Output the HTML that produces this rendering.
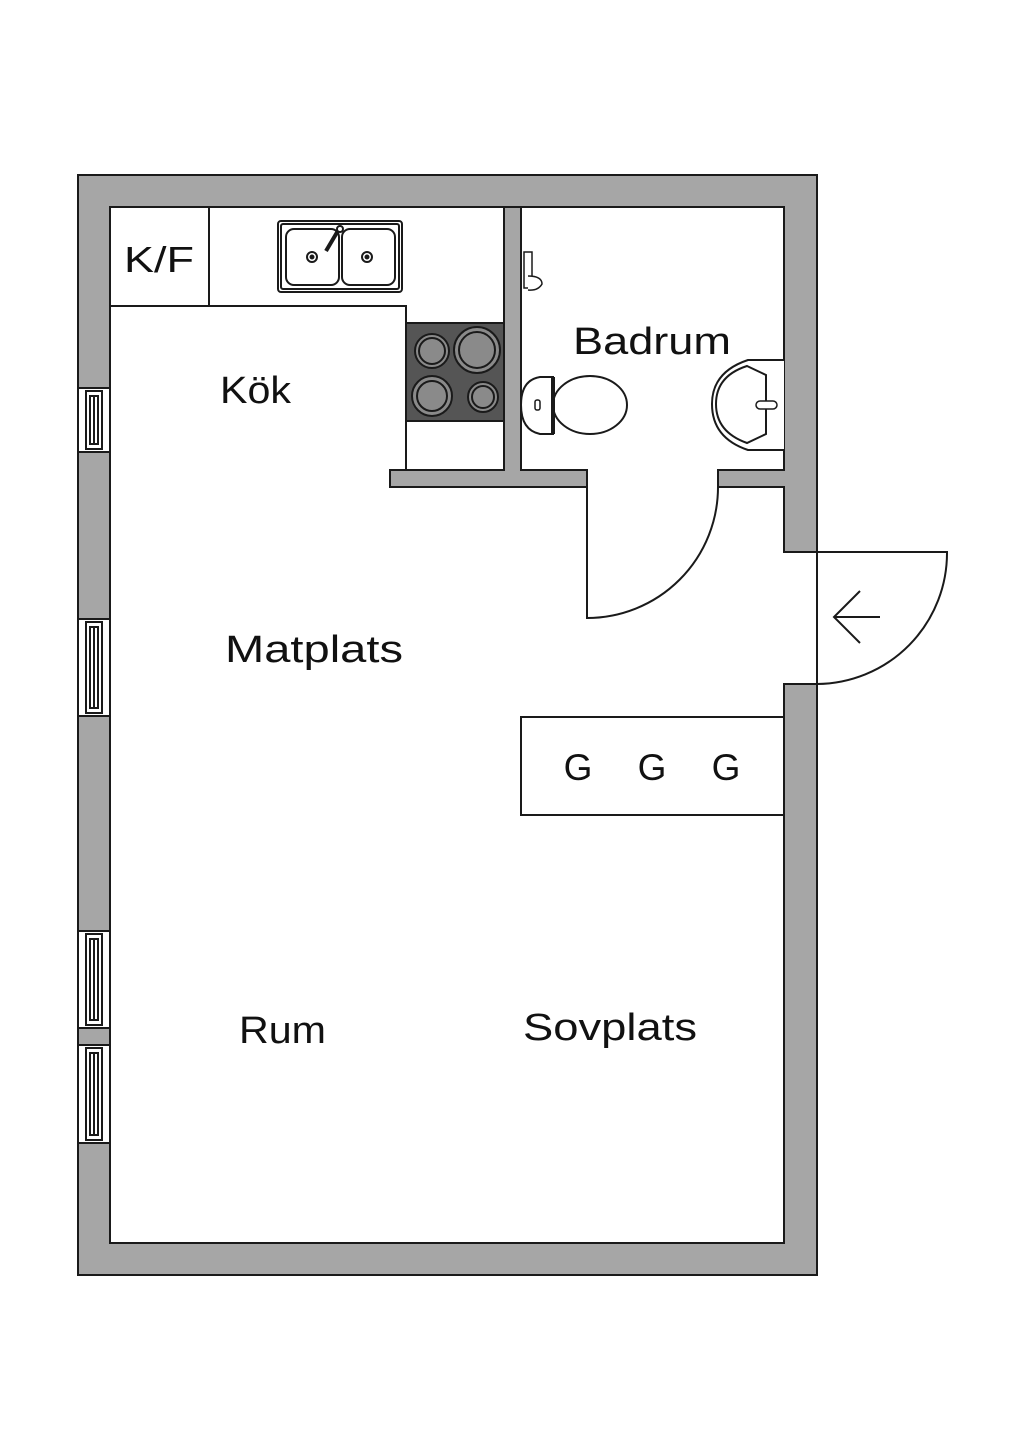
<!DOCTYPE html>
<html><head><meta charset="utf-8"><style>
html,body{margin:0;padding:0;background:#fff}
svg{display:block}
text{font-family:"Liberation Sans",sans-serif;fill:#111}
</style></head><body>
<svg width="1024" height="1448" viewBox="0 0 1024 1448" xmlns="http://www.w3.org/2000/svg">
<g stroke="#1a1a1a" stroke-width="2">
<path d="M78,175 H817 V1275 H78 Z M110,207 V1243 H784 V207 Z" fill="#a6a6a6" fill-rule="evenodd"/>
<rect x="783" y="552" width="36" height="132" fill="#fff" stroke="none"/>
<path d="M784,552 H817 M784,684 H817" fill="none"/>
<line x1="784" y1="545" x2="784" y2="553"/>
<line x1="784" y1="683" x2="784" y2="691"/>
<path d="M504,207 H521 V470 H587 V487 H390 V470 H504 Z" fill="#a6a6a6"/>
<path d="M784,470 H718 V487 H784" fill="#a6a6a6"/>
<rect x="783" y="471" width="3" height="15" fill="#a6a6a6" stroke="none"/>
<g fill="#fff">
<rect x="78" y="388" width="32" height="64"/><rect x="86" y="391" width="16" height="58"/><line x1="94" y1="396" x2="94" y2="444"/><rect x="90" y="396" width="8" height="48" fill="none"/>
<rect x="78" y="619" width="32" height="97"/><rect x="86" y="622" width="16" height="91"/><rect x="90" y="627" width="8" height="81" fill="none"/><line x1="94" y1="627" x2="94" y2="708"/>
<rect x="78" y="931" width="32" height="97"/><rect x="86" y="934" width="16" height="91"/><rect x="90" y="939" width="8" height="81" fill="none"/><line x1="94" y1="939" x2="94" y2="1020"/>
<rect x="78" y="1045" width="32" height="98"/><rect x="86" y="1048" width="16" height="92"/><rect x="90" y="1053" width="8" height="82" fill="none"/><line x1="94" y1="1053" x2="94" y2="1135"/>
</g>
<path d="M110,306 H406 V470" fill="none"/>
<line x1="209" y1="207" x2="209" y2="306"/>
<rect x="406" y="323" width="98" height="98" fill="#555"/>
<g fill="#8a8a8a">
<circle cx="432" cy="351" r="17"/><circle cx="432" cy="351" r="13"/>
<circle cx="477" cy="350" r="23"/><circle cx="477" cy="350" r="18"/>
<circle cx="432" cy="396" r="20"/><circle cx="432" cy="396" r="15"/>
<circle cx="483" cy="397" r="15"/><circle cx="483" cy="397" r="11"/>
</g>
<rect x="278" y="221" width="124" height="71" rx="3" fill="#fff"/>
<rect x="281" y="224" width="118" height="65" rx="2" fill="none"/>
<rect x="286" y="229" width="53" height="56" rx="8" fill="none"/>
<rect x="342" y="229" width="53" height="56" rx="8" fill="none"/>
<circle cx="312" cy="257" r="5" fill="none"/><circle cx="312" cy="257" r="1.5" fill="#111"/>
<circle cx="367" cy="257" r="5" fill="none"/><circle cx="367" cy="257" r="1.5" fill="#111"/>
<line x1="339" y1="229" x2="326" y2="251" stroke-width="4"/>
<circle cx="340" cy="229" r="3" fill="#fff"/>
<rect x="524" y="252" width="8" height="36" fill="#fff" stroke-width="1.5"/>
<path d="M528,276 q14,0 14,8 q-4,7 -14,6" fill="#fff" stroke-width="1.5"/>
<path d="M540,377 H553 V434 H540 Q521,430 521,405 Q521,380 540,377 Z" fill="#fff"/>
<ellipse cx="590" cy="405" rx="37" ry="29" fill="#fff"/>
<line x1="552" y1="377" x2="552" y2="434"/>
<line x1="554" y1="377" x2="554" y2="434"/>
<rect x="535" y="400" width="5" height="10" rx="2" fill="none" stroke-width="1.5"/>
<path d="M784,360 H748 Q712,372 712,404 Q712,438 748,450 H784" fill="#fff"/>
<path d="M747,366 L766,375 V434 L747,443 Q716,432 716,404 Q716,376 747,366 Z" fill="none"/>
<rect x="756" y="401" width="21" height="8" rx="4" fill="#fff" stroke-width="1.5"/>
<path d="M587,487 V618 A131,131 0 0 0 718,487" fill="none"/>
<path d="M817,552 H947 A131,131 0 0 1 817,684 Z" fill="none"/>
<path d="M880,617 H834 M860,591 L834,617 L860,643" fill="none"/>
<rect x="521" y="717" width="263" height="98" fill="#fff"/>
</g>
<text x="124" y="272" font-size="36" textLength="70" lengthAdjust="spacingAndGlyphs">K/F</text>
<text x="220" y="403" font-size="38" textLength="71" lengthAdjust="spacingAndGlyphs">Kök</text>
<text x="573" y="354" font-size="38" textLength="158" lengthAdjust="spacingAndGlyphs">Badrum</text>
<text x="225" y="662" font-size="38" textLength="178" lengthAdjust="spacingAndGlyphs">Matplats</text>
<text x="239" y="1043" font-size="38" textLength="87" lengthAdjust="spacingAndGlyphs">Rum</text>
<text x="523" y="1040" font-size="38" textLength="174" lengthAdjust="spacingAndGlyphs">Sovplats</text>
<text x="578" y="780" font-size="37" text-anchor="middle">G</text>
<text x="652" y="780" font-size="37" text-anchor="middle">G</text>
<text x="726" y="780" font-size="37" text-anchor="middle">G</text>
</svg>
</body></html>
